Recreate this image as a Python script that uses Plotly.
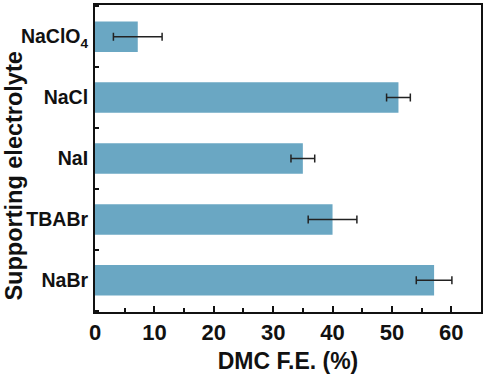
import plotly.graph_objects as go

categories = ["NaBr", "TBABr", "NaI", "NaCl", "NaClO<sub>4</sub>"]
values = [57.1, 40.0, 35.0, 51.1, 7.2]
errors = [3.0, 4.1, 2.0, 2.0, 4.1]
x_ticks = [0, 10, 20, 30, 40, 50, 60]

fig = go.Figure()
fig.add_trace(go.Bar(
    y=categories, x=values, orientation="h", width=0.5,
    marker=dict(color="#6aa7c3", line=dict(width=0)),
    error_x=dict(type="data", array=errors, visible=True,
                 color="#222222", thickness=1.5, width=4),
))

font = dict(family="Liberation Sans, Arial, sans-serif", color="#111111", weight="bold")

fig.update_layout(
    width=486, height=374,
    margin=dict(l=95, r=5, t=5, b=62, autoexpand=False),
    paper_bgcolor="white", plot_bgcolor="white",
    showlegend=False,
    font=font,
    xaxis=dict(
        range=[0, 65], tickvals=x_ticks, ticks="inside", ticklen=6, tickwidth=1.5,
        tickcolor="#111", showline=True, linecolor="#111", linewidth=2, mirror=True,
        showgrid=False, zeroline=False, automargin=False,
        tickfont=dict(size=22, **font),
        minor=dict(dtick=5, tick0=0, ticks="inside", ticklen=4, tickwidth=1.5, tickcolor="#111", showgrid=False),
        title=dict(text="DMC F.E. (%)", font=dict(size=23, **font), standoff=8),
    ),
    yaxis=dict(
        type="category", categoryorder="array", categoryarray=categories,
        range=[-0.52, 4.52], ticks="inside", tickson="boundaries", ticklen=4, tickwidth=1.5,
        tickcolor="#111", showline=True, linecolor="#111", linewidth=2, mirror=True,
        showgrid=False, zeroline=False, ticklabelstandoff=1, automargin=False,
        tickfont=dict(size=19.5, **font),
    ),
    annotations=[dict(
        text="Supporting electrolyte", textangle=-90, showarrow=False,
        xref="paper", yref="paper", x=-0.211, y=0.443,
        xanchor="center", yanchor="middle", borderpad=0,
        font=dict(size=23.5, **font),
    )],
)

fig.write_html("out.html")
